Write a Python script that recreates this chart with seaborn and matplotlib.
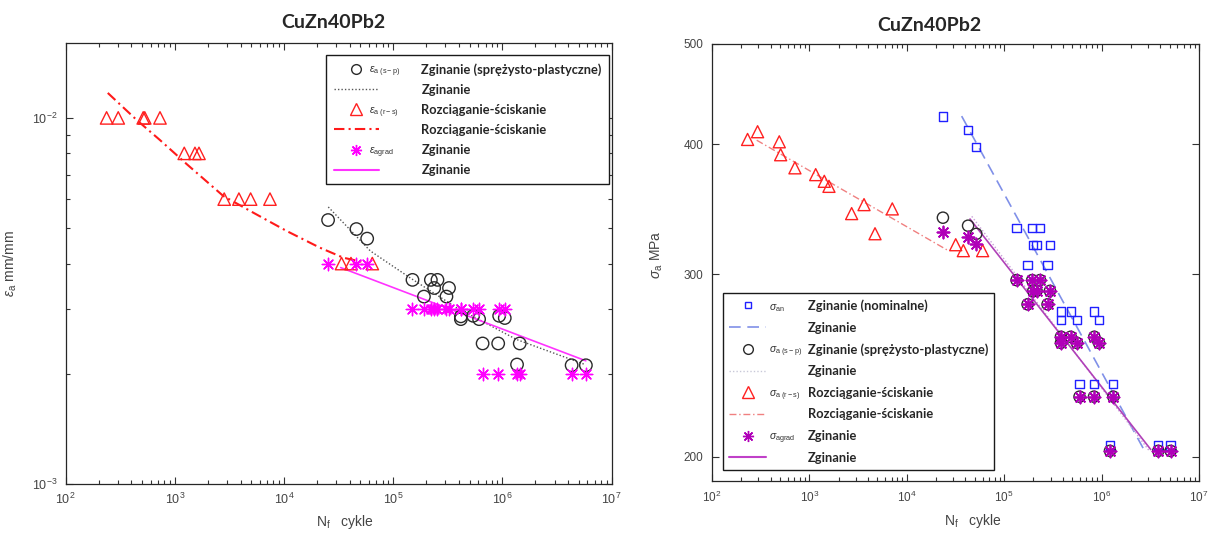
import matplotlib.pyplot as plt
import seaborn as sns
from matplotlib.lines import Line2D
from matplotlib.ticker import FixedLocator, NullLocator, NullFormatter, FuncFormatter, LogLocator

# ---------------- left panel: strain amplitude ----------------
# tension-compression (r-s) triangles
n_rs_eps = [237, 303, 513, 530, 731, 1219, 1528, 1663, 2831, 3860, 4940, 7430, 33600, 41000, 64300]
eps_rs = [0.010, 0.010, 0.010, 0.010, 0.010, 0.008, 0.008, 0.008,
          0.006, 0.006, 0.006, 0.006, 0.004, 0.004, 0.004]

# bending, elastic-plastic (s-p) circles and gradient (agrad) stars
n_bend_eps = [25300, 46000, 57700, 150000, 191000, 221000, 237000, 254000, 307000, 324000, 416000,
              416000, 539000, 611000, 658000, 914000, 933000, 1050000, 1360000, 1440000, 4300000, 5810000]
eps_sp = [0.00526, 0.00497, 0.00468, 0.00361, 0.00325, 0.00361, 0.00343, 0.00361, 0.00325, 0.00343, 0.00287,
          0.00282, 0.00288, 0.00282, 0.00242, 0.00242, 0.00288, 0.00284, 0.00212, 0.00242, 0.00211, 0.00211]
eps_grad = [0.004, 0.004, 0.004, 0.003, 0.003, 0.003, 0.003, 0.003, 0.003, 0.003, 0.003,
            0.003, 0.003, 0.003, 0.002, 0.002, 0.003, 0.003, 0.002, 0.002, 0.002, 0.002]

# fitted curves
rs_fit_n = [243, 447, 730, 1282, 2775, 5220, 10560, 21300, 34900, 61200]
rs_fit_eps = [0.0117, 0.00987, 0.0087, 0.00748, 0.00612, 0.00551, 0.00491, 0.00442, 0.00415, 0.0040]
sp_fit_n = [25400, 61700, 142000, 381000, 1350000, 5700000]
sp_fit_eps = [0.00571, 0.00433, 0.00366, 0.00303, 0.00248, 0.00212]
grad_fit_n = [33000, 5800000]
grad_fit_eps = [0.0039, 0.00217]

# ---------------- right panel: stress amplitude ----------------
n_bend_sig = [23500, 42600, 51700, 134000, 194000, 233000, 199000, 215000, 295000, 174000, 279000, 383000,
              482000, 842000, 383000, 558000, 940000, 594000, 836000, 1320000, 1220000, 3820000, 5120000]
sig_an = [425.6, 413, 398, 332.5, 332.5, 332.5, 320, 320, 320, 306, 306, 276,
          276, 276, 271, 271, 271, 235, 235, 235, 205, 205, 205]
sig_sp = [340, 334, 328, 296, 296, 296, 289, 289, 289, 280.5, 280.5, 261,
          261, 261, 257.5, 257.5, 257.5, 228.5, 228.5, 228.5, 202.6, 202.6, 202.6]
sig_grad = [329.5, 325.5, 321, 296, 296, 296, 289, 289, 289, 280.5, 280.5, 261,
            261, 261, 257.5, 257.5, 257.5, 228.5, 228.5, 228.5, 202.6, 202.6, 202.6]

n_rs_sig = [232, 294, 491, 507, 711, 1161, 1423, 1589, 2716, 3640, 4720, 7100, 31800, 38100, 60100]
sig_rs = [404.5, 411.5, 402.4, 391, 379.8, 374.1, 368.6, 364.5, 343.1, 350, 328.1, 346.7, 320.2, 316, 316]

an_fit_n = [36600, 2680000]
an_fit_sig = [426, 203.7]
sp_fit_n_sig = [46500, 3100000]
sp_fit_sig = [341, 202.5]
rs_fit_n_sig = [288, 26700]
rs_fit_sig = [403.8, 316]
grad_fit_n_sig = [44600, 3200000]
grad_fit_sig = [339, 203.2]

sns.set_style("ticks")
plt.rcParams.update({
    "mathtext.fontset": "custom",
    "mathtext.rm": "Liberation Sans",
    "mathtext.it": "Liberation Sans:italic",
    "mathtext.bf": "Liberation Sans:bold",
    "axes.edgecolor": "#262626",
    "axes.linewidth": 0.9,
    "xtick.color": "#333333",
    "ytick.color": "#333333",
})
plt.rcParams["font.family"] = ["Liberation Sans", "DejaVu Sans"]

LEG_FONT = {"family": ["Lato", "DejaVu Sans"], "weight": "bold", "size": 9.3}
ASTER = (8, 2, 0)

fig = plt.figure(figsize=(12.16, 5.33), dpi=100)
ax1 = fig.add_axes([0.054, 0.092, 0.449, 0.827])
ax2 = fig.add_axes([0.5855, 0.0976, 0.4005, 0.8199])

for ax in (ax1, ax2):
    ax.set_xscale("log")
    ax.set_yscale("log")


def style_axes(ax, labelsize):
    ax.set_xlim(1e2, 1e7)
    ax.xaxis.set_major_locator(LogLocator(base=10, numticks=10))
    ax.xaxis.set_minor_locator(LogLocator(base=10, subs=range(2, 10), numticks=20))
    ax.xaxis.set_minor_formatter(NullFormatter())
    ax.tick_params(which="both", direction="in", top=True, right=True, labelsize=labelsize,
                   labelcolor="#444444", width=0.8)
    ax.tick_params(which="major", length=5, pad=6)
    ax.tick_params(which="minor", length=3)


def add_symbols(ax, leg, symbols, dx):
    # small MATLAB-style symbol text placed between handle and description
    for txt, sym in zip(leg.get_texts(), symbols):
        if sym:
            ax.annotate(sym, xy=(0, 0.5), xycoords=txt, xytext=(-dx, -2), textcoords="offset points",
                        ha="left", va="center", fontsize=7.5, color="#333333", zorder=10,
                        annotation_clip=False)


# ---------------- left panel ----------------
sns.lineplot(x=rs_fit_n, y=rs_fit_eps, ax=ax1, color="#ff1a1a", linestyle=(0, (5, 2, 1, 2)),
             linewidth=1.5, sort=False, estimator=None)
sns.lineplot(x=sp_fit_n, y=sp_fit_eps, ax=ax1, color="#555555", linestyle=(0, (1, 1.5)),
             linewidth=1.0, sort=False, estimator=None)
sns.lineplot(x=grad_fit_n, y=grad_fit_eps, ax=ax1, color="#ff33ff", linewidth=1.2,
             sort=False, estimator=None)
sns.scatterplot(x=n_rs_eps, y=eps_rs, ax=ax1, marker="^", s=80, facecolor="none",
                edgecolor="#ff2020", linewidth=1.0, legend=False, zorder=3)
sns.scatterplot(x=n_bend_eps, y=eps_sp, ax=ax1, marker="o", s=80, facecolor="none",
                edgecolor="#2a2a2a", linewidth=1.0, legend=False, zorder=3)
sns.scatterplot(x=n_bend_eps, y=eps_grad, ax=ax1, marker=ASTER, s=80, color="#ff00ff",
                linewidth=1.0, legend=False, zorder=3)

style_axes(ax1, 9)
ax1.set_ylim(1e-3, 0.016)
ax1.yaxis.set_minor_formatter(NullFormatter())
ax1.set_xlabel(r"N$_{\mathrm{f}}$   cykle", fontsize=10, color="#444444")
ax1.xaxis.set_label_coords(0.511, -0.066)
ax1.set_ylabel(r"$\epsilon_{\mathrm{a}}$ mm/mm", fontsize=10, color="#444444")
ax1.yaxis.set_label_coords(-0.085, 0.5)

h_left = [
    Line2D([], [], marker="o", ms=7, mfc="none", mec="#2a2a2a", ls="none"),
    Line2D([], [], color="#555555", ls=(0, (1, 1.5)), lw=1.0),
    Line2D([], [], marker="^", ms=8, mfc="none", mec="#ff2020", ls="none"),
    Line2D([], [], color="#ff1a1a", ls=(0, (5, 2, 1, 2)), lw=1.5),
    Line2D([], [], marker=ASTER, ms=8, color="#ff00ff", mew=1.0, ls="none"),
    Line2D([], [], color="#ff33ff", lw=1.5),
]
l_left = ["Zginanie (sprężysto-plastyczne)", "Zginanie", "Rozciąganie-ściskanie",
          "Rozciąganie-ściskanie", "Zginanie", "Zginanie"]
leg1 = ax1.legend(h_left, l_left, loc="upper right", bbox_to_anchor=(0.996, 0.973),
                  borderaxespad=0, prop=LEG_FONT, handlelength=3.5, handletextpad=3.3,
                  labelspacing=0.63, borderpad=0.6, fancybox=False, framealpha=1,
                  edgecolor="#1a1a1a")
leg1.get_frame().set_linewidth(1.0)
add_symbols(ax1, leg1, [r"$\epsilon_{\mathrm{a\ (s-p)}}$", None, r"$\epsilon_{\mathrm{a\ (r-s)}}$", None,
                        r"$\epsilon_{\mathrm{agrad}}$", None], 38)

# ---------------- right panel ----------------
sns.lineplot(x=rs_fit_n_sig, y=rs_fit_sig, ax=ax2, color="#f08080", linestyle=(0, (5, 2, 1, 2)),
             linewidth=1.0, sort=False, estimator=None)
sns.lineplot(x=an_fit_n, y=an_fit_sig, ax=ax2, color="#8090e8", linestyle=(0, (7, 4)),
             linewidth=1.2, sort=False, estimator=None)
sns.lineplot(x=sp_fit_n_sig, y=sp_fit_sig, ax=ax2, color="#c8a0d8", linestyle=(0, (1, 1.5)),
             linewidth=1.0, sort=False, estimator=None)
sns.lineplot(x=grad_fit_n_sig, y=grad_fit_sig, ax=ax2, color="#b040b8", linewidth=1.2,
             sort=False, estimator=None)
sns.scatterplot(x=n_bend_sig, y=sig_an, ax=ax2, marker="s", s=36, facecolor="none",
                edgecolor="#2020ff", linewidth=1.0, legend=False, zorder=3)
sns.scatterplot(x=n_rs_sig, y=sig_rs, ax=ax2, marker="^", s=75, facecolor="none",
                edgecolor="#ff2020", linewidth=1.0, legend=False, zorder=3)
sns.scatterplot(x=n_bend_sig, y=sig_sp, ax=ax2, marker="o", s=65, facecolor="none",
                edgecolor="#2a2a2a", linewidth=1.0, legend=False, zorder=3)
sns.scatterplot(x=n_bend_sig, y=sig_grad, ax=ax2, marker=ASTER, s=75, color="#b000b8",
                linewidth=1.3, legend=False, zorder=4)

style_axes(ax2, 8.5)
ax2.set_ylim(189.5, 500)
ax2.yaxis.set_major_locator(FixedLocator([200, 300, 400, 500]))
ax2.yaxis.set_major_formatter(FuncFormatter(lambda v, p: f"{v:.0f}"))
ax2.yaxis.set_minor_locator(NullLocator())
ax2.set_xlabel(r"N$_{\mathrm{f}}$   cykle", fontsize=10, color="#444444")
ax2.xaxis.set_label_coords(0.536, -0.072)
ax2.set_ylabel(r"$\sigma_{\mathrm{a}}$ MPa", fontsize=10, color="#444444")
ax2.yaxis.set_label_coords(-0.097, 0.517)

h_right = [
    Line2D([], [], marker="s", ms=5, mfc="none", mec="#2020ff", ls="none"),
    Line2D([], [], color="#8090e8", ls=(0, (7, 4)), lw=1.2),
    Line2D([], [], marker="o", ms=7, mfc="none", mec="#2a2a2a", ls="none"),
    Line2D([], [], color="#c8c8d8", ls=(0, (1, 1.5)), lw=1.0),
    Line2D([], [], marker="^", ms=8, mfc="none", mec="#ff2020", ls="none"),
    Line2D([], [], color="#f08080", ls=(0, (5, 2, 1, 2)), lw=1.0),
    Line2D([], [], marker=ASTER, ms=8, color="#b000b8", mew=1.0, ls="none"),
    Line2D([], [], color="#c040c8", lw=1.5),
]
l_right = ["Zginanie (nominalne)", "Zginanie", "Zginanie (sprężysto-plastyczne)", "Zginanie",
           "Rozciąganie-ściskanie", "Rozciąganie-ściskanie", "Zginanie", "Zginanie"]
leg2 = ax2.legend(h_right, l_right, loc="lower left", bbox_to_anchor=(0.0226, 0.025),
                  borderaxespad=0, prop=LEG_FONT, handlelength=2.8, handletextpad=3.25,
                  labelspacing=0.74, borderpad=0.5, fancybox=False, framealpha=1,
                  edgecolor="#1a1a1a")
leg2.get_frame().set_linewidth(1.0)
add_symbols(ax2, leg2, [r"$\sigma_{\mathrm{an}}$", None, r"$\sigma_{\mathrm{a\ (s-p)}}$", None,
                        r"$\sigma_{\mathrm{a\ (r-s)}}$", None, r"$\sigma_{\mathrm{agrad}}$", None], 28)

# titles
title_font = {"family": ["Lato", "DejaVu Sans"], "weight": "bold", "size": 14}
fig.text(0.274, 0.958, "CuZn40Pb2", ha="center", va="center", fontdict=title_font)
fig.text(0.764, 0.953, "CuZn40Pb2", ha="center", va="center", fontdict=title_font)

fig.savefig("out.png", dpi=100)
